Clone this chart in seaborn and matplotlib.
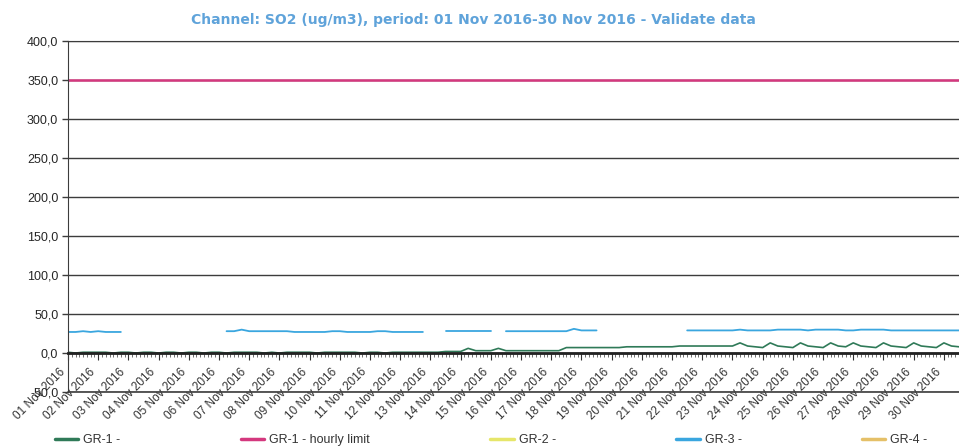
import numpy as np
import pandas as pd
import matplotlib
matplotlib.use('Agg')
import matplotlib.pyplot as plt
import matplotlib.dates as mdates
from matplotlib.lines import Line2D
from matplotlib.transforms import ScaledTranslation
import seaborn as sns

nan = np.nan

# 6-hourly readings (00h, 06h, 12h, 18h), one row per day, 01..30 Nov 2016
gr1_values = [
    1, 0, 1, 1,     # 01 Nov
    1, 1, 0, 1,
    1, 0, 1, 1,
    0, 1, 1, 0,
    1, 1, 0, 1,     # 05 Nov
    1, 0, 1, 1,
    1, 1, 0, 1,
    0, 1, 1, 1,
    1, 0, 1, 1,
    1, 1, 1, 0,     # 10 Nov
    1, 1, 0, 1,
    1, 1, 1, 1,
    1, 1, 2, 2,
    2, 6, 3, 3,
    3, 6, 3, 3,     # 15 Nov
    3, 3, 3, 3,
    3, 3, 7, 7,
    7, 7, 7, 7,
    7, 7, 8, 8,
    8, 8, 8, 8,     # 20 Nov
    8, 9, 9, 9,
    9, 9, 9, 9,
    9, 13, 9, 8,
    7, 13, 9, 8,
    7, 13, 9, 8,    # 25 Nov
    7, 13, 9, 8,
    13, 9, 8, 7,
    13, 9, 8, 7,
    13, 9, 8, 7,
    13, 9, 8, 7,    # 30 Nov
]

gr3_values = [
    27, 27, 28, 27,         # 01 Nov
    28, 27, 27, 27,
    nan, nan, nan, nan,
    nan, nan, nan, nan,
    nan, nan, nan, nan,     # 05 Nov
    nan, 28, 28, 30,
    28, 28, 28, 28,
    28, 28, 27, 27,
    27, 27, 27, 28,
    28, 27, 27, 27,         # 10 Nov
    27, 28, 28, 27,
    27, 27, 27, 27,
    nan, nan, 28, 28,
    28, 28, 28, 28,
    28, nan, 28, 28,        # 15 Nov
    28, 28, 28, 28,
    28, 28, 28, 31,
    29, 29, 29, nan,
    nan, nan, nan, nan,
    nan, nan, nan, nan,     # 20 Nov
    nan, nan, 29, 29,
    29, 29, 29, 29,
    29, 30, 29, 29,
    29, 29, 30, 30,
    30, 30, 29, 30,         # 25 Nov
    30, 30, 30, 29,
    29, 30, 30, 30,
    30, 29, 29, 29,
    29, 29, 29, 29,
    29, 29, 29, 29,         # 30 Nov
]

hourly_limit = 350.0

series_labels = ['GR-1 -', 'GR-1 - hourly limit', 'GR-2 -', 'GR-3 -', 'GR-4 -']
series_colors = ['#2f7a58', '#d4387e', '#e6e66a', '#3aa6df', '#e5c068']

times = pd.date_range('2016-11-01', periods=len(gr1_values), freq='6h')

def segments(values):
    df = pd.DataFrame({'time': times, 'value': values})
    df['seg'] = df['value'].isna().cumsum()
    return df.dropna()

sns.set_style('white')
plt.rcParams['font.family'] = ['Liberation Sans', 'DejaVu Sans']

fig = plt.figure(figsize=(9.59, 4.46), dpi=100)
ax = fig.add_axes([0.0709, 0.121, 0.9291, 0.787])

# limit line
limit_df = pd.DataFrame({'time': times, 'value': hourly_limit})
sns.lineplot(data=limit_df, x='time', y='value', color=series_colors[1],
             lw=1.8, ax=ax, legend=False)

sns.lineplot(data=segments(gr3_values), x='time', y='value', units='seg',
             estimator=None, color=series_colors[3], lw=1.3, ax=ax, legend=False)
sns.lineplot(data=segments(gr1_values), x='time', y='value', units='seg',
             estimator=None, color=series_colors[0], lw=1.2, ax=ax, legend=False)

ax.set_xlim(pd.Timestamp('2016-11-01'), pd.Timestamp('2016-11-30 12:00'))
ax.set_ylim(-50, 400)
ax.set_xlabel('')
ax.set_ylabel('')

# y axis
ax.set_yticks(np.arange(-50, 401, 50))
ax.set_yticklabels([f'{v:.1f}'.replace('.', ',') for v in np.arange(-50, 401, 50)],
                   fontsize=9)
ax.yaxis.grid(True, color='#3c3c3c', lw=1)
ax.xaxis.grid(False)
ax.axhline(-50, color='#3c3c3c', lw=1.2, clip_on=False)
ax.tick_params(axis='y', left=True, length=4, width=1, color='#3c3c3c', pad=3)

# x axis crosses at zero
ax.spines['bottom'].set_position(('data', 0))
ax.spines['bottom'].set_color('#222222')
ax.spines['bottom'].set_linewidth(2)
ax.spines['left'].set_color('#3c3c3c')
ax.spines['top'].set_color('#3c3c3c')
ax.spines['right'].set_visible(False)
ax.xaxis.set_major_locator(mdates.DayLocator())
ax.xaxis.set_major_formatter(mdates.DateFormatter('%d %b %Y'))
ax.xaxis.set_minor_locator(mdates.HourLocator(byhour=range(0, 24, 3)))
ax.tick_params(axis='x', which='major', bottom=True, length=5, color='#333333',
               labelsize=8.5, pad=3)
ax.tick_params(axis='x', which='minor', bottom=True, length=3, color='#555555')
shift = ScaledTranslation(-9 / 100, -2 / 100, fig.dpi_scale_trans)
for lbl in ax.get_xticklabels():
    lbl.set_rotation(45)
    lbl.set_ha('right')
    lbl.set_rotation_mode('anchor')
    lbl.set_color('#333333')
    lbl.set_transform(lbl.get_transform() + shift)

fig.text(0.494, 0.955,
         'Channel: SO2 (ug/m3), period: 01 Nov 2016-30 Nov 2016 - Validate data',
         ha='center', va='center', color='#5fa3da', fontsize=10,
         fontweight='bold', family='DejaVu Sans')

handles = [Line2D([], [], color=c, lw=2.5) for c in series_colors]
fig.legend(handles, series_labels, loc='center left',
           bbox_to_anchor=(0.057, 0.013), ncol=5, frameon=False, fontsize=9,
           handlelength=1.9, handletextpad=0.4, columnspacing=9.6,
           borderpad=0, borderaxespad=0, labelcolor='#333333')

fig.savefig('out.png', dpi=100)
